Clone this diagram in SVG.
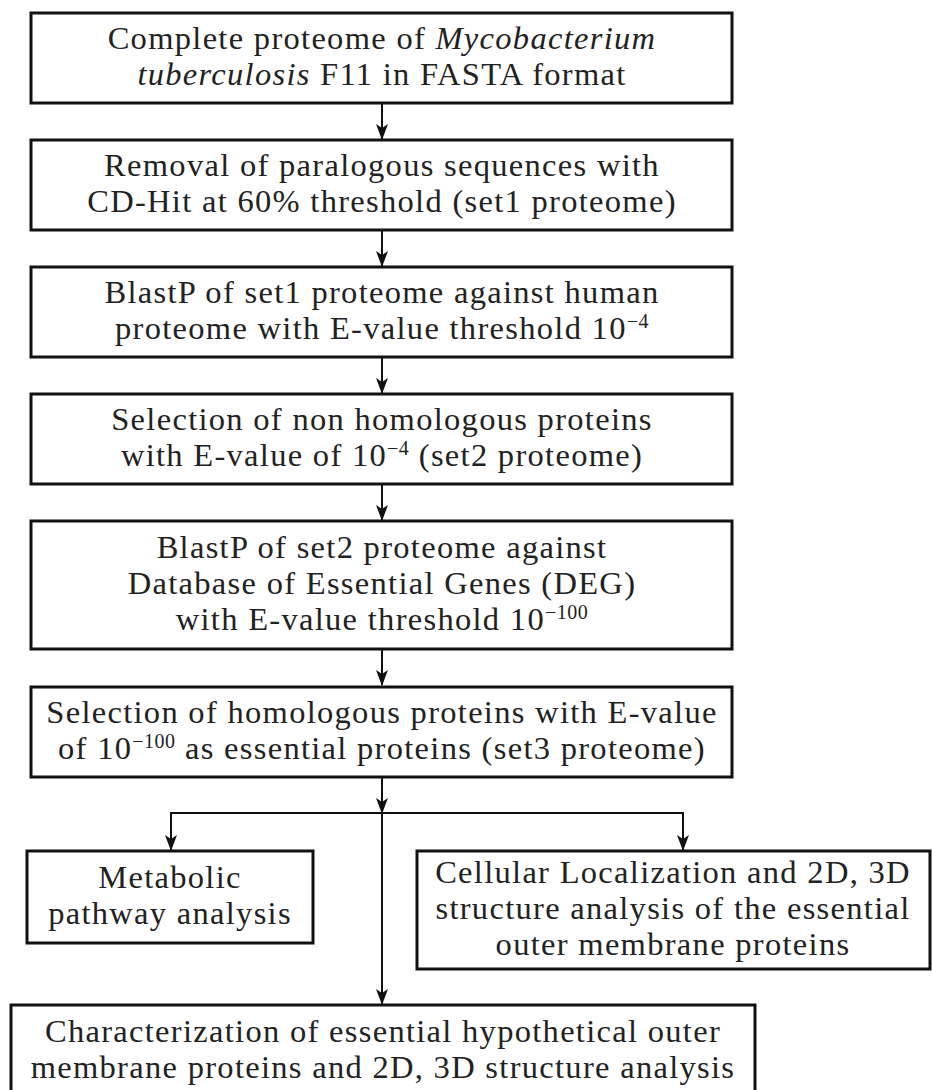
<svg xmlns="http://www.w3.org/2000/svg" width="932" height="1090" viewBox="0 0 932 1090">
<style>
.box{fill:#fff;stroke:#111;stroke-width:3}
.t{font-family:"Liberation Serif","Times New Roman",serif;font-size:32.5px;letter-spacing:1.3px;fill:#222;text-anchor:middle}
.sup{font-size:20px;letter-spacing:0.5px}
.c{fill:none;stroke:#111;stroke-width:2}
</style>
<defs>
<marker id="ah" markerUnits="userSpaceOnUse" markerWidth="12" markerHeight="16" refX="6" refY="15" orient="0" viewBox="0 0 12 16">
<path d="M0,0 L6,4 L12,0 L6,16 Z" fill="#111"/>
</marker>
</defs>
<rect width="932" height="1090" fill="#fff"/>
<g id="connectors">
<line class="c" x1="382" y1="103" x2="382" y2="139" marker-end="url(#ah)"/>
<line class="c" x1="382" y1="230" x2="382" y2="266" marker-end="url(#ah)"/>
<line class="c" x1="382" y1="357" x2="382" y2="393" marker-end="url(#ah)"/>
<line class="c" x1="382" y1="484" x2="382" y2="520" marker-end="url(#ah)"/>
<line class="c" x1="382" y1="649" x2="382" y2="685" marker-end="url(#ah)"/>
<line class="c" x1="382" y1="777" x2="382" y2="813" marker-end="url(#ah)"/>
<polyline class="c" points="171,850 171,813 683,813 683,850"/>
<line class="c" x1="171" y1="813" x2="171" y2="850" marker-end="url(#ah)"/>
<line class="c" x1="683" y1="813" x2="683" y2="850" marker-end="url(#ah)"/>
<line class="c" x1="382" y1="813" x2="382" y2="1004" marker-end="url(#ah)"/>
</g>
<g id="n1">
<rect class="box" x="31" y="13" width="701" height="90"/>
<text class="t" x="382" y="49">Complete proteome of <tspan font-style="italic">Mycobacterium</tspan></text>
<text class="t" x="382" y="85"><tspan font-style="italic">tuberculosis</tspan> F11 in FASTA format</text>
</g>
<g id="n2">
<rect class="box" x="31" y="140" width="701" height="90"/>
<text class="t" x="382" y="176">Removal of paralogous sequences with</text>
<text class="t" x="382" y="212">CD-Hit at 60% threshold (set1 proteome)</text>
</g>
<g id="n3">
<rect class="box" x="31" y="267" width="701" height="90"/>
<text class="t" x="382" y="303">BlastP of set1 proteome against human</text>
<text class="t" x="382" y="339">proteome with E-value threshold 10<tspan class="sup" dy="-11">−4</tspan></text>
</g>
<g id="n4">
<rect class="box" x="31" y="394" width="701" height="90"/>
<text class="t" x="382" y="430">Selection of non homologous proteins</text>
<text class="t" x="382" y="466">with E-value of 10<tspan class="sup" dy="-11">−4</tspan><tspan dy="11"> (set2 proteome)</tspan></text>
</g>
<g id="n5">
<rect class="box" x="31" y="521" width="701" height="128"/>
<text class="t" x="382" y="558">BlastP of set2 proteome against</text>
<text class="t" x="382" y="594">Database of Essential Genes (DEG)</text>
<text class="t" x="382" y="630">with E-value threshold 10<tspan class="sup" dy="-11">−100</tspan></text>
</g>
<g id="n6">
<rect class="box" x="31" y="687" width="701" height="90"/>
<text class="t" x="382" y="723">Selection of homologous proteins with E-value</text>
<text class="t" x="382" y="759">of 10<tspan class="sup" dy="-11">−100</tspan><tspan dy="11"> as essential proteins (set3 proteome)</tspan></text>
</g>
<g id="n7">
<rect class="box" x="27" y="851" width="286" height="92"/>
<text class="t" x="170" y="888">Metabolic</text>
<text class="t" x="170" y="924">pathway analysis</text>
</g>
<g id="n8">
<rect class="box" x="417" y="851" width="513" height="118"/>
<text class="t" x="673" y="883">Cellular Localization and 2D, 3D</text>
<text class="t" x="673" y="919">structure analysis of the essential</text>
<text class="t" x="673" y="955">outer membrane proteins</text>
</g>
<g id="n9">
<rect class="box" x="11" y="1005" width="744" height="90"/>
<text class="t" x="383" y="1042">Characterization of essential hypothetical outer</text>
<text class="t" x="383" y="1078">membrane proteins and 2D, 3D structure analysis</text>
</g>
</svg>
